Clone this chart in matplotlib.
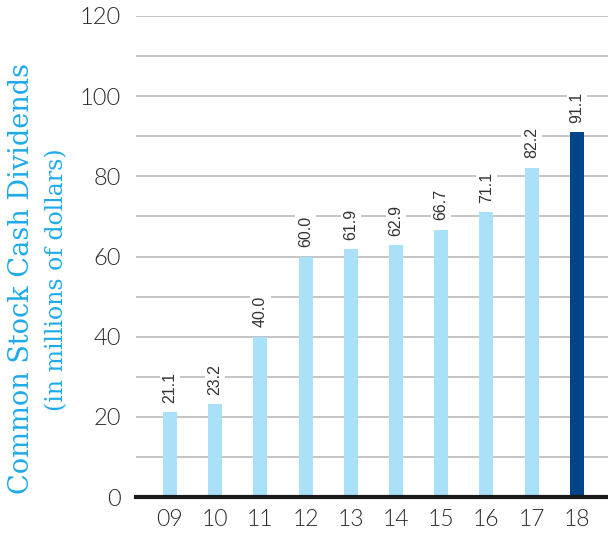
import matplotlib.pyplot as plt
from matplotlib.ticker import MultipleLocator

years = ['09', '10', '11', '12', '13', '14', '15', '16', '17', '18']
dividends = [21.1, 23.2, 40.0, 60.0, 61.9, 62.9, 66.7, 71.1, 82.2, 91.1]

light_blue = '#abe0f9'
dark_blue = '#004489'
title_blue = '#1eaaea'

fig = plt.figure(figsize=(6.08, 5.37), dpi=100)
ax = fig.add_axes([136 / 608, 40 / 537, 1 - 136 / 608, 481 / 537])

colors = [light_blue] * (len(years) - 1) + [dark_blue]
x = range(len(years))
bars = ax.bar(x, dividends, width=0.31, color=colors, zorder=3)

# value labels, rotated, on white boxes that cut the grid lines
for xi, v in zip(x, dividends):
    ax.text(xi, v + 2.3, f'{v:.1f}', rotation=90, ha='center', va='bottom',
            fontsize=11.5, color='#333333', family='Liberation Sans', zorder=4,
            bbox=dict(facecolor='white', edgecolor='none', pad=2))

ax.set_xlim(-0.75, 9.69)
ax.set_ylim(0, 120)
ax.yaxis.set_major_locator(MultipleLocator(20))
ax.yaxis.set_minor_locator(MultipleLocator(10))
ax.grid(axis='y', which='both', color='#bbbbbb', linewidth=1.2, zorder=0)
ax.set_axisbelow(True)

for s in ['top', 'right', 'left']:
    ax.spines[s].set_visible(False)
ax.spines['bottom'].set_color('#1a1a1a')
ax.spines['bottom'].set_linewidth(3)
ax.spines['bottom'].set_zorder(5)
ax.spines['bottom'].set_clip_on(False)

ax.set_xticks(list(x))
ax.set_xticklabels(years)
ax.tick_params(axis='both', which='both', length=0)
ax.tick_params(axis='x', pad=9)
ax.tick_params(axis='y', pad=11)
for lbl in ax.get_xticklabels():
    lbl.set_fontsize(16.5)
    lbl.set_fontfamily('Lato')
    lbl.set_fontweight(300)
    lbl.set_color('#2a2a2a')
for lbl in ax.get_yticklabels():
    lbl.set_fontsize(17)
    lbl.set_fontfamily('Lato')
    lbl.set_fontweight(300)
    lbl.set_color('#2a2a2a')

fig.text(22 / 608, 1 - 278 / 537, 'Common Stock Cash Dividends', rotation=90,
         ha='center', va='center', fontsize=19.5, color=title_blue,
         family='DejaVu Serif')
fig.text(57 / 608, 1 - 280 / 537, '(in millions of dollars)', rotation=90,
         ha='center', va='center', fontsize=17, color=title_blue,
         family='DejaVu Serif')

fig.savefig('out.png', dpi=100)
